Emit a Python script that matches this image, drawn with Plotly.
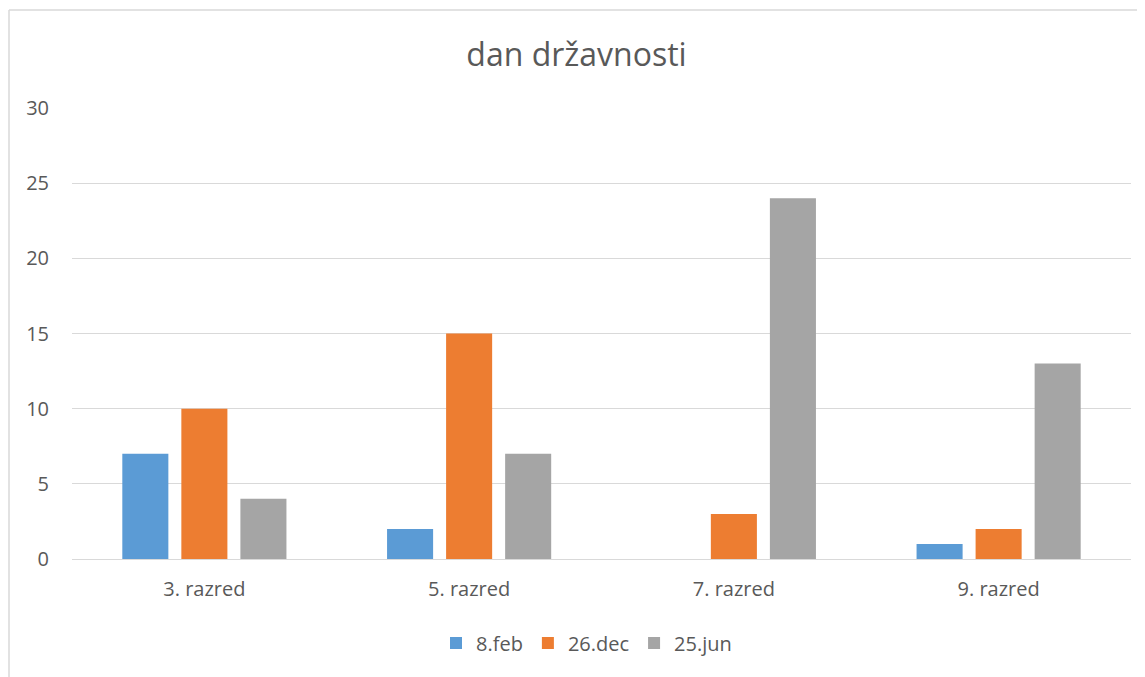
import plotly.graph_objects as go

categories = ["3. razred", "5. razred", "7. razred", "9. razred"]
series_names = ["8.feb", "26.dec", "25.jun"]
feb8 = [7, 2, 0, 1]
dec26 = [10, 15, 3, 2]
jun25 = [4, 7, 24, 13]
colors = ["#5B9BD5", "#ED7D31", "#A5A5A5"]
y_ticks = [0, 5, 10, 15, 20, 25, 30]

# page body has an 8px margin; target absolute positions are offset by it
OFF = 8
W, H = 1145 - OFF, 677 - OFF
L, R, T, B = 72 - OFF, 14, 108 - OFF, 118
pw, ph = W - L - R, H - T - B

fig = go.Figure()
for name, vals, c in zip(series_names, [feb8, dec26, jun25], colors):
    fig.add_trace(go.Bar(x=categories, y=vals, name=name, marker_color=c,
                         marker_line_width=0))

font_fam = "Open Sans, Noto Sans, sans-serif"
fig.update_layout(
    width=W, height=H,
    margin=dict(l=L, r=R, t=T, b=B),
    paper_bgcolor="white", plot_bgcolor="white",
    barmode="group", bargap=0.331, bargroupgap=0.22,
    title=dict(text="dan državnosti", x=0.5, xanchor="center",
               y=1 - (55 - OFF) / H, yanchor="middle",
               font=dict(family=font_fam, size=32, color="#595959")),
    font=dict(family=font_fam, color="#595959", size=20),
    xaxis=dict(showgrid=False, showline=False, zeroline=False,
               tickfont=dict(size=20, color="#595959"), ticks="",
               ticklabelstandoff=16),
    yaxis=dict(range=[0, 30], tickvals=y_ticks, showgrid=True,
               gridcolor="#D9D9D9", gridwidth=1.3, zeroline=True,
               zerolinecolor="#D9D9D9", zerolinewidth=1.3, showline=False,
               tickfont=dict(size=20, color="#595959"), ticks="",
               ticklabelstandoff=22),
    legend=dict(orientation="h", x=0.5 - 15.0 / pw, xanchor="center",
                y=(559 - 643) / ph, yanchor="middle",
                font=dict(size=20, color="#595959"),
                itemwidth=30, tracegroupgap=0),
    showlegend=True,
)

# chart area border (left and top edges visible)
x_left = (8 - OFF - L) / pw
y_top = 1 + (T - (9 - OFF)) / ph
x_right = (W + 10 - L) / pw
y_bot = -(B + 10) / ph
fig.add_shape(type="line", xref="paper", yref="paper", x0=x_left + 1.0 / pw, x1=x_right,
              y0=y_top - 1.0 / ph, y1=y_top - 1.0 / ph,
              line=dict(color="#D9D9D9", width=1.5), layer="below")
fig.add_shape(type="line", xref="paper", yref="paper", x0=x_left + 1.0 / pw, x1=x_left + 1.0 / pw,
              y0=y_top - 1.0 / ph, y1=y_bot, line=dict(color="#D9D9D9", width=1.5), layer="below")

fig.write_html("out.html")
